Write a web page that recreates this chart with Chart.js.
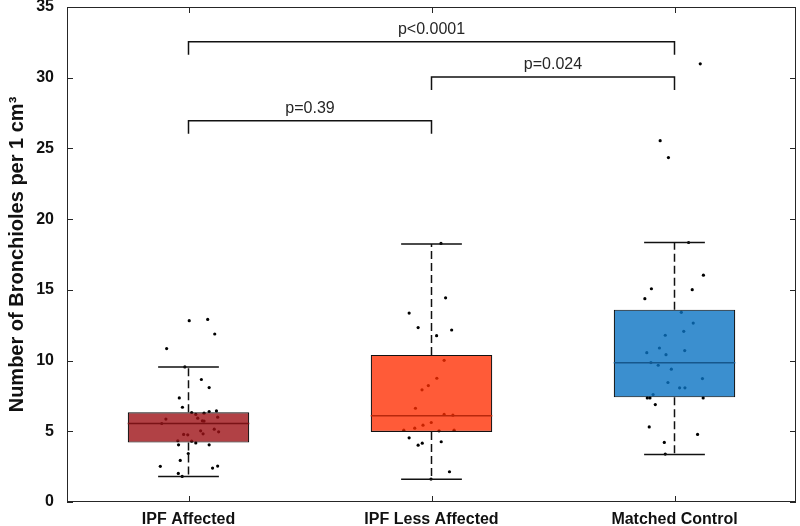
<!DOCTYPE html>
<html>
<head>
<meta charset="utf-8">
<script src="https://cdn.jsdelivr.net/npm/chart.js@4.4.1/dist/chart.umd.min.js"></script>
<style>
  html, body { margin: 0; padding: 0; background: #fff; }
  #wrap { width: 800px; height: 526px; position: relative; }
</style>
</head>
<body>
<div id="wrap"><canvas id="chart"></canvas></div>
<script>
// groups
const categories = ['IPF Affected', 'IPF Less Affected', 'Matched Control'];

// box statistics
const q1 = [4.2, 4.95, 7.4];
const medians = [5.55, 6.1, 9.85];
const q3 = [6.35, 10.4, 13.6];
const whiskerLow = [1.8, 1.6, 3.35];
const whiskerHigh = [9.55, 18.25, 18.35];

// individual samples and their horizontal jitter (in category units)
const affectedValues = [12.82, 12.91, 11.88, 10.85, 9.55, 8.66, 8.09, 7.36, 6.70, 6.33, 6.19, 6.28, 6.40, 6.44,
  5.93, 5.74, 5.72, 6.00, 5.86, 5.55, 4.78, 4.75, 4.82, 5.03, 5.15, 4.96, 4.33, 4.30, 4.18, 4.04, 4.04,
  3.43, 2.94, 2.52, 2.40, 2.54, 2.02, 1.81];
const affectedJitter = [0.003, 0.079, 0.108, -0.090, -0.015, 0.053, 0.085, -0.038, -0.025, 0.013, 0.030, 0.064, 0.085, 0.115,
  0.038, 0.057, 0.064, 0.120, -0.093, -0.110, -0.020, -0.003, 0.060, 0.050, 0.106, 0.124, -0.044, 0.013, 0.030, -0.041, 0.085,
  -0.001, -0.034, -0.116, 0.099, 0.120, -0.042, -0.026];

const lessAffectedValues = [18.28, 14.44, 13.36, 12.33, 12.16, 11.76, 10.02, 8.75, 8.23, 7.93, 6.63, 6.19, 6.14,
  5.62, 5.43, 5.22, 5.08, 5.03, 5.08, 4.54, 4.26, 4.16, 4.02, 2.14, 1.62];
const lessAffectedJitter = [0.039, 0.058, -0.092, -0.055, 0.083, 0.021, 0.052, 0.022, -0.013, -0.039, -0.066, 0.052, 0.088,
  -0.001, -0.035, -0.069, -0.114, 0.031, 0.093, -0.092, 0.040, -0.038, -0.055, 0.074, -0.002];

const controlValues = [30.98, 25.55, 24.35, 18.35, 16.04, 15.08, 15.01, 14.38, 13.41, 12.65, 11.79, 12.07, 10.89, 10.71,
  10.56, 10.42, 9.86, 9.67, 9.39, 8.73, 8.45, 8.07, 8.07, 7.60, 7.36, 7.36, 7.36, 6.89, 5.31, 4.78, 4.21, 3.39];
const controlJitter = [0.106, -0.059, -0.025, 0.058, 0.119, -0.095, 0.073, -0.122, 0.028, 0.077, -0.038, 0.038, -0.062, 0.042,
  -0.114, -0.035, -0.097, -0.067, -0.013, 0.115, -0.027, 0.021, 0.043, -0.088, -0.112, -0.101, 0.118, -0.079, -0.104, 0.095, -0.042, -0.038];

// significance brackets
const pairFrom = [0, 1, 0];
const pairTo = [2, 2, 1];
const pLabels = ['p<0.0001', 'p=0.024', 'p=0.39'];
const bracketLevels = [32.55, 30.05, 26.95];

const boxFill = ['rgba(157,18,22,0.8)', 'rgba(255,45,0,0.78)', 'rgba(10,115,195,0.8)'];
const medianColors = ['#7a1216', '#b8280c', '#16578c'];

const groupValues = [affectedValues, lessAffectedValues, controlValues];
const groupJitter = [affectedJitter, lessAffectedJitter, controlJitter];
const scatterData = [];
groupValues.forEach((vals, g) => {
  vals.forEach((v, i) => scatterData.push({ x: g + 1 + groupJitter[g][i], y: v }));
});

const FONT = '"Liberation Sans", Arial, Helvetica, sans-serif';
const INK = '#262626';

const boxPlotExtras = {
  id: 'boxPlotExtras',
  afterDatasetsDraw(chart) {
    const { ctx, chartArea: a, scales: { x, y } } = chart;
    const half = chart.getDatasetMeta(0).data[0].width / 2;
    ctx.save();
    categories.forEach((c, i) => {
      const cx = x.getPixelForValue(i + 1);
      // median
      ctx.strokeStyle = medianColors[i];
      ctx.lineWidth = 1.5;
      ctx.beginPath();
      ctx.moveTo(cx - half, y.getPixelForValue(medians[i]));
      ctx.lineTo(cx + half, y.getPixelForValue(medians[i]));
      ctx.stroke();
      // whiskers
      ctx.strokeStyle = '#111';
      ctx.setLineDash([8, 4]);
      ctx.beginPath();
      ctx.moveTo(cx, y.getPixelForValue(q3[i]));
      ctx.lineTo(cx, y.getPixelForValue(whiskerHigh[i]));
      ctx.moveTo(cx, y.getPixelForValue(q1[i]));
      ctx.lineTo(cx, y.getPixelForValue(whiskerLow[i]));
      ctx.stroke();
      ctx.setLineDash([]);
      // caps
      ctx.beginPath();
      [whiskerHigh[i], whiskerLow[i]].forEach(v => {
        ctx.moveTo(cx - half / 2, y.getPixelForValue(v));
        ctx.lineTo(cx + half / 2, y.getPixelForValue(v));
      });
      ctx.stroke();
    });

    // significance brackets
    ctx.lineWidth = 1.5;
    ctx.strokeStyle = '#111';
    ctx.fillStyle = INK;
    ctx.font = '16px ' + FONT;
    ctx.textAlign = 'center';
    ctx.textBaseline = 'bottom';
    pLabels.forEach((lab, k) => {
      const x1 = x.getPixelForValue(pairFrom[k] + 1);
      const x2 = x.getPixelForValue(pairTo[k] + 1);
      const yy = y.getPixelForValue(bracketLevels[k]);
      ctx.beginPath();
      ctx.moveTo(x1, yy + 13);
      ctx.lineTo(x1, yy);
      ctx.lineTo(x2, yy);
      ctx.lineTo(x2, yy + 13);
      ctx.stroke();
      ctx.fillText(lab, (x1 + x2) / 2, yy - 4);
    });

    // axes box with inward ticks
    ctx.lineWidth = 1;
    ctx.strokeStyle = INK;
    ctx.strokeRect(a.left + 0.5, a.top + 0.5, a.right - a.left - 1, a.bottom - a.top - 1);
    ctx.beginPath();
    y.ticks.forEach(t => {
      const py = Math.round(y.getPixelForValue(t.value)) + 0.5;
      ctx.moveTo(a.left, py); ctx.lineTo(a.left + 6, py);
      ctx.moveTo(a.right, py); ctx.lineTo(a.right - 6, py);
    });
    x.ticks.forEach(t => {
      const px = Math.round(x.getPixelForValue(t.value)) + 0.5;
      ctx.moveTo(px, a.bottom); ctx.lineTo(px, a.bottom - 6);
      ctx.moveTo(px, a.top); ctx.lineTo(px, a.top + 6);
    });
    ctx.stroke();
    ctx.restore();
  }
};

new Chart(document.getElementById('chart'), {
  type: 'bar',
  data: {
    datasets: [
      {
        type: 'bar',
        data: categories.map((c, i) => ({ x: i + 1, y: [q1[i], q3[i]] })),
        backgroundColor: boxFill,
        borderColor: '#111',
        borderWidth: 1.2,
        borderSkipped: false,
        barPercentage: 0.5,
        categoryPercentage: 1,
        order: 1
      },
      {
        type: 'scatter',
        data: scatterData,
        pointRadius: 1.6,
        pointBackgroundColor: '#000',
        pointBorderWidth: 0,
        order: 2
      }
    ]
  },
  options: {
    responsive: true,
    maintainAspectRatio: false,
    animation: false,
    layout: { padding: { top: 7, right: 1, left: 0, bottom: 0 } },
    plugins: { legend: { display: false }, tooltip: { enabled: false } },
    scales: {
      x: {
        type: 'linear',
        offset: false,
        min: 0.5,
        max: 3.5,
        grid: { display: false, drawTicks: false },
        border: { display: false },
        afterBuildTicks: s => { s.ticks = categories.map((c, i) => ({ value: i + 1 })); },
        afterFit: s => { s.height = 24; s.paddingLeft = 0; s.paddingRight = 0; },
        ticks: {
          padding: 8,
          color: '#111',
          font: { family: FONT, size: 16, weight: 'bold' },
          callback: v => categories[v - 1]
        }
      },
      y: {
        min: 0,
        max: 35,
        grid: { display: false, drawTicks: false },
        border: { display: false },
        afterFit: s => { s.width = 67; s.paddingTop = 0; s.paddingBottom = 0; },
        ticks: {
          stepSize: 5,
          padding: 13,
          color: '#111',
          font: { family: FONT, size: 16, weight: 'bold' }
        },
        title: {
          display: true,
          text: 'Number of Bronchioles per 1 cm³',
          color: '#111',
          padding: { top: 5, bottom: 0 },
          font: { family: FONT, size: 20, weight: 'bold' }
        }
      }
    }
  },
  plugins: [boxPlotExtras]
});
</script>
</body>
</html>
